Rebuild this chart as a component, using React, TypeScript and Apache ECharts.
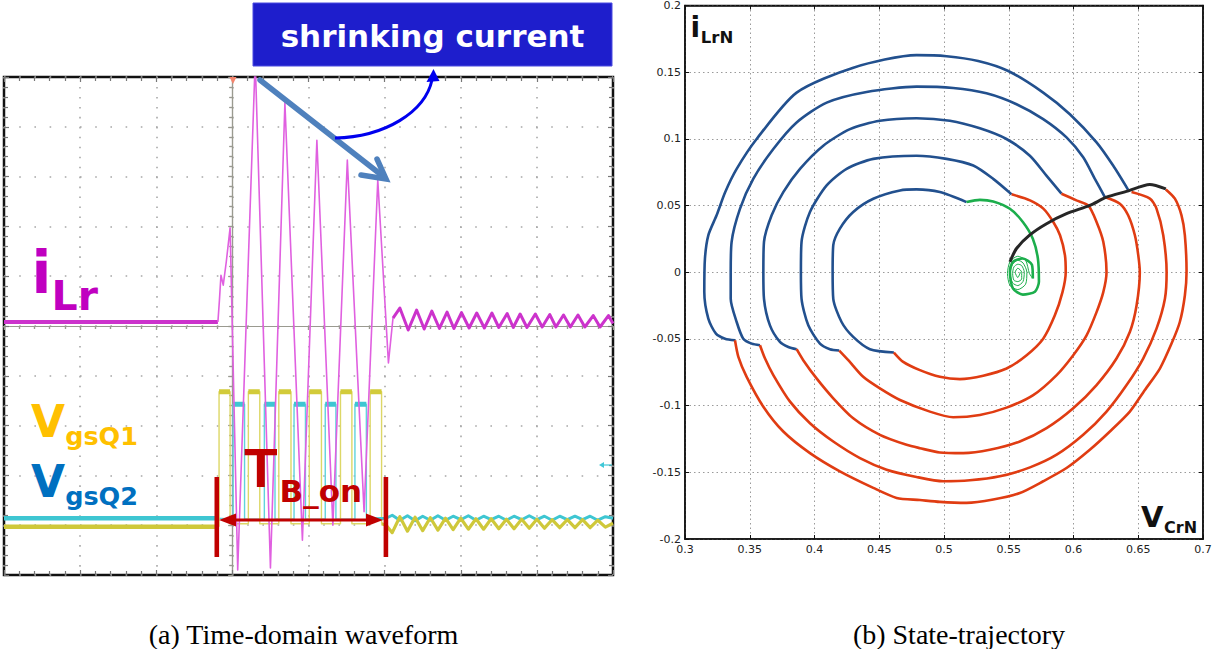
import React, { useEffect, useRef } from "react";
import * as echarts from "echarts";

// ---------------- Panel (a): oscilloscope traces (units: divisions; x -3..5, y -5..5) ----------------
const iLrPreX = [-3, -0.19];
const iLrPreY = [0.08, 0.08];
const iLrBurstX = [-0.19, -0.17, -0.15, -0.12, -0.08, -0.03, 0.07, 0.3, 0.5, 0.69, 0.92, 1.11, 1.32, 1.51, 1.73, 1.91, 2.05, 2.11];
const iLrBurstY = [0.08, 0.52, 1.02, 0.82, 1.29, 1.97, -4.9, 5.34, -4.86, 4.48, -4.3, 3.73, -4.0, 3.33, -3.73, 2.93, -0.74, 0.16];
const iLrRingX = [2.11, 2.2, 2.31, 2.42, 2.52, 2.62, 2.72, 2.82, 2.91, 3.01, 3.11, 3.21, 3.31, 3.41, 3.5, 3.61, 3.69, 3.78, 3.87, 3.98, 4.07, 4.17, 4.25, 4.35, 4.44, 4.54, 4.63, 4.74, 4.83, 4.94, 5.0];
const iLrRingY = [0.16, 0.36, -0.08, 0.32, -0.06, 0.3, -0.05, 0.28, -0.05, 0.27, -0.04, 0.26, -0.04, 0.26, -0.03, 0.25, -0.03, 0.24, -0.03, 0.24, -0.02, 0.23, -0.02, 0.22, -0.02, 0.22, -0.02, 0.21, -0.02, 0.21, 0.05];

const q1Rise = [-0.175, 0.21, 0.61, 1.01, 1.42, 1.81];
const q1Fall = [-0.03, 0.36, 0.77, 1.17, 1.57, 1.96];
const q1Levels = { high: -1.32, low: -3.97, pre: -4.03 };
const q2Rise = [0.01, 0.42, 0.81, 1.22, 1.61];
const q2Fall = [0.16, 0.56, 0.96, 1.36, 1.76];
const q2Levels = { high: -1.57, low: -3.88, pre: -3.86 };

const tailX = [2.02, 2.1, 2.2, 2.3, 2.4, 2.5, 2.6, 2.7, 2.8, 2.9, 3.0, 3.1, 3.2, 3.3, 3.4, 3.5, 3.6, 3.7, 3.8, 3.9, 4.0, 4.1, 4.2, 4.3, 4.4, 4.5, 4.6, 4.7, 4.8, 4.9, 5.0];
const q1TailY = [-4.0, -4.15, -3.83, -4.12, -3.84, -4.11, -3.85, -4.1, -3.86, -4.09, -3.86, -4.08, -3.87, -4.08, -3.87, -4.07, -3.88, -4.07, -3.88, -4.06, -3.88, -4.06, -3.89, -4.05, -3.89, -4.05, -3.89, -4.05, -3.9, -4.04, -3.96];
const q2TailY = [-3.86, -3.8, -3.9, -3.81, -3.91, -3.82, -3.9, -3.81, -3.9, -3.82, -3.89, -3.81, -3.9, -3.82, -3.89, -3.82, -3.9, -3.82, -3.89, -3.81, -3.89, -3.82, -3.9, -3.82, -3.89, -3.82, -3.89, -3.82, -3.9, -3.83, -3.86];

// ---------------- Panel (b): state trajectory (VCrN, iLrN) ----------------
const blue1 = [[0.3386, -0.051], [0.3309, -0.0498], [0.3239, -0.046], [0.318, -0.0348], [0.3149, -0.0149], [0.3154, 0.0103], [0.318, 0.0277], [0.3244, 0.0427], [0.331, 0.06], [0.3399, 0.0775], [0.3553, 0.0999], [0.3862, 0.1347], [0.43, 0.1534], [0.4788, 0.1628], [0.502, 0.162], [0.5264, 0.1584], [0.5496, 0.1509], [0.5766, 0.1347], [0.5972, 0.1185], [0.6178, 0.0974], [0.6306, 0.08], [0.6422, 0.0618]];
const blue2 = [[0.3579, -0.0547], [0.3515, -0.0535], [0.345, -0.0498], [0.3399, -0.0373], [0.3353, -0.0199], [0.3353, 0], [0.336, 0.0228], [0.3425, 0.0477], [0.3527, 0.07], [0.3682, 0.0924], [0.3862, 0.1123], [0.4094, 0.1272], [0.4402, 0.1352], [0.4788, 0.1392], [0.5071, 0.1382], [0.5328, 0.1342], [0.556, 0.126], [0.5766, 0.1148], [0.5946, 0.1011], [0.6075, 0.0862], [0.6165, 0.07], [0.6242, 0.0564]];
const blue3 = [[0.3862, -0.0577], [0.3798, -0.056], [0.3733, -0.0522], [0.3656, -0.0398], [0.361, -0.0199], [0.3605, 0], [0.361, 0.0228], [0.3669, 0.0427], [0.3759, 0.0601], [0.3888, 0.0775], [0.4068, 0.0949], [0.4274, 0.1073], [0.4505, 0.1136], [0.4788, 0.1155], [0.5045, 0.1136], [0.5277, 0.1079], [0.5482, 0.0999], [0.5663, 0.0874], [0.5791, 0.0725], [0.5907, 0.0589]];
const blue4 = [[0.4191, -0.0587], [0.4119, -0.0577], [0.4042, -0.0535], [0.3952, -0.0398], [0.39, -0.0199], [0.3895, 0], [0.39, 0.0228], [0.3965, 0.0452], [0.4094, 0.0651], [0.4248, 0.0775], [0.4454, 0.085], [0.4788, 0.0874], [0.502, 0.085], [0.5226, 0.08], [0.538, 0.07], [0.5522, 0.0584]];
const blue5 = [[0.4613, -0.0602], [0.4428, -0.0577], [0.4299, -0.0485], [0.4209, -0.0373], [0.4145, -0.0199], [0.414, 0], [0.4145, 0.0203], [0.4196, 0.0327], [0.4299, 0.0452], [0.4454, 0.0551], [0.466, 0.0613], [0.4788, 0.0621], [0.4968, 0.0601], [0.5174, 0.0526]];

const red1 = [[0.6713, 0.0621], [0.6783, 0.0552], [0.6834, 0.0427], [0.686, 0.0277], [0.6873, 0.0004], [0.686, -0.0174], [0.6821, -0.0373], [0.6757, -0.0535], [0.6667, -0.0722], [0.6551, -0.0883], [0.6435, -0.1045], [0.6281, -0.1194], [0.6126, -0.1331], [0.5946, -0.1468], [0.5766, -0.1567], [0.5586, -0.1655], [0.538, -0.1704], [0.5174, -0.1729], [0.4968, -0.1722], [0.4814, -0.1708], [0.4634, -0.1692], [0.4454, -0.1617], [0.4196, -0.1493], [0.3965, -0.1356], [0.3759, -0.1194], [0.3605, -0.1008], [0.3476, -0.0784], [0.3412, -0.0634], [0.3386, -0.051]];
const red2 = [[0.6448, 0.0601], [0.659, 0.0552], [0.6641, 0.0477], [0.6693, 0.0277], [0.6719, 0], [0.6706, -0.0199], [0.6641, -0.0423], [0.6538, -0.0647], [0.641, -0.0846], [0.6255, -0.1045], [0.6075, -0.1219], [0.587, -0.1368], [0.5664, -0.1463], [0.5431, -0.153], [0.52, -0.156], [0.4995, -0.1567], [0.4788, -0.1535], [0.4557, -0.148], [0.4351, -0.1393], [0.4145, -0.1269], [0.3965, -0.1132], [0.3811, -0.097], [0.3682, -0.0771], [0.3618, -0.0647], [0.3579, -0.0547]];
const red3 = [[0.6242, 0.0564], [0.6358, 0.0514], [0.6422, 0.0427], [0.6474, 0.0277], [0.65, 0.0128], [0.6512, 0], [0.6487, -0.0249], [0.6435, -0.0448], [0.6332, -0.0647], [0.6178, -0.0846], [0.5998, -0.102], [0.5792, -0.1169], [0.5586, -0.1269], [0.5354, -0.1331], [0.5149, -0.1356], [0.4968, -0.1351], [0.4814, -0.1319], [0.4711, -0.1294], [0.4505, -0.1219], [0.4299, -0.1095], [0.4145, -0.0945], [0.4016, -0.0796], [0.3913, -0.0659], [0.3862, -0.0577]];
const red4 = [[0.5907, 0.0589], [0.6023, 0.0539], [0.6114, 0.0501], [0.6178, 0.0377], [0.623, 0.0228], [0.6255, 0], [0.623, -0.0149], [0.6178, -0.0299], [0.6101, -0.0473], [0.5998, -0.0622], [0.587, -0.0771], [0.5689, -0.0921], [0.5483, -0.1015], [0.5277, -0.107], [0.5071, -0.1087], [0.4891, -0.1045], [0.466, -0.0958], [0.4505, -0.0871], [0.4376, -0.0784], [0.4261, -0.0659], [0.4191, -0.0587]];
const red5 = [[0.5522, 0.0584], [0.5664, 0.0539], [0.5767, 0.0477], [0.5844, 0.0377], [0.5896, 0.0277], [0.5934, 0.0128], [0.594, 0], [0.5915, -0.0149], [0.5856, -0.0323], [0.5766, -0.0498], [0.5638, -0.0622], [0.5483, -0.0722], [0.5303, -0.0776], [0.5123, -0.0801], [0.4968, -0.0784], [0.4814, -0.0734], [0.4685, -0.0672], [0.4613, -0.0602]];
const blackPath = [[0.5509, 0.0078], [0.556, 0.0178], [0.5663, 0.028], [0.5792, 0.0364], [0.5946, 0.0439], [0.6126, 0.0501], [0.6255, 0.0563], [0.6409, 0.0606], [0.6589, 0.0658], [0.6713, 0.0625]];
const greenPath = [[0.5174, 0.0526], [0.5277, 0.0543], [0.538, 0.0531], [0.5509, 0.0476], [0.5609, 0.0377], [0.5686, 0.0252], [0.5725, 0.0103], [0.5733, -0.0071], [0.5702, -0.0146], [0.5609, -0.0168], [0.5532, -0.0121], [0.5509, 0.0004], [0.5532, 0.0078], [0.5609, 0.0103], [0.5679, 0.0056], [0.5686, -0.0046]];
const greenCoil = [[0.5686, -0.0046], [0.566, -0.001], [0.563, 0.009], [0.557, 0.012], [0.551, 0.008], [0.549, -0.001], [0.551, -0.01], [0.557, -0.013], [0.563, -0.009], [0.564, 0], [0.561, 0.007], [0.557, 0.009], [0.553, 0.006], [0.551, -0.001], [0.553, -0.008], [0.557, -0.01], [0.561, -0.007], [0.562, 0], [0.56, 0.005], [0.557, 0.006], [0.554, 0.004], [0.553, -0.001], [0.554, -0.006], [0.557, -0.007], [0.56, -0.005], [0.56, 0], [0.557, 0.003], [0.555, 0], [0.557, -0.004], [0.559, 0]];

const captionA = "(a) Time-domain waveform";
const captionB = "(b) State-trajectory";

const zip = (xs: number[], ys: number[]) => xs.map((x, i) => [x, ys[i]]);
const steps = (rises: number[], falls: number[], high: number, low: number) => {
  const pts: number[][] = [];
  rises.forEach((r, i) => {
    pts.push([r, low], [r, high], [falls[i], high], [falls[i], low]);
  });
  return pts;
};
const plateaus = (rises: number[], falls: number[], high: number) => {
  const pts: any[] = [];
  rises.forEach((r, i) => {
    pts.push([r, high], [falls[i], high], "-");
  });
  return pts;
};

const SCOPE_GRID = "#9a9a90";
const BOLD = "DejaVu Sans";

export default function App() {
  const ref = useRef<HTMLDivElement>(null);
  useEffect(() => {
    if (!ref.current) return;
    const chart = echarts.init(ref.current, undefined, { renderer: "svg" });

    const scopeLine = (data: any[], color: string, width: number, z = 2) => ({
      type: "line", xAxisIndex: 0, yAxisIndex: 0, data, showSymbol: false, symbol: "none",
      clip: true, z, connectNulls: false, lineStyle: { color, width, join: "round" }, silent: true,
    });
    const traj = (data: number[][], color: string, width = 2.6, z = 3) => ({
      type: "line", xAxisIndex: 4, yAxisIndex: 4, data, showSymbol: false, symbol: "none",
      smooth: 0.25, clip: true, z, lineStyle: { color, width }, silent: true,
    });

    const crossAxis = (dim: "x" | "y", inside: boolean, split: boolean) => ({
      type: "value", gridIndex: 0,
      min: dim === "x" ? -3 : -5, max: 5, interval: 1,
      axisLine: { show: true, onZero: true, onZeroAxisIndex: 0, lineStyle: { color: SCOPE_GRID, width: 1.2 } },
      axisTick: { show: true, inside, length: 4, lineStyle: { color: SCOPE_GRID, width: 1.2 } },
      minorTick: { show: true, splitNumber: 5, length: 3, lineStyle: { color: SCOPE_GRID, width: 1.2 } },
      axisLabel: { show: false },
      splitLine: split
        ? { show: true, lineStyle: { color: "#a8a8a8", width: 1.6, type: dim === "x" ? [1.6, 8.36] : [1.6, 13.6] } }
        : { show: false },
    });
    const borderAxis = (dim: "x" | "y", position: string) => ({
      type: "value", gridIndex: 0, position,
      min: dim === "x" ? -3 : -5, max: 5, interval: 1,
      axisLine: { show: false, onZero: false },
      axisTick: { show: true, inside: true, length: 5, lineStyle: { color: "#777", width: 1.2 } },
      minorTick: { show: true, splitNumber: 5, length: 4, lineStyle: { color: "#777", width: 1.2 } },
      axisLabel: { show: false }, splitLine: { show: false },
    });
    const trajAxis = (dim: "x" | "y", position: string, labels: boolean) => ({
      type: "value", gridIndex: 1, position,
      min: dim === "x" ? 0.3 : -0.2, max: dim === "x" ? 0.7 : 0.2, interval: 0.05,
      axisLine: { show: true, onZero: false, lineStyle: { color: "#111", width: 1.6 } },
      axisTick: { show: true, inside: true, length: 4, lineStyle: { color: "#111" } },
      axisLabel: labels
        ? { show: true, fontSize: 11, fontFamily: "DejaVu Sans", color: "#222", margin: dim === "x" ? 5 : 4 }
        : { show: false },
      splitLine: labels
        ? { show: true, lineStyle: { color: "#9a9a9a", width: 1, type: [1.5, 3] } }
        : { show: false },
    });

    const q1Burst = [[q1Rise[0], q1Levels.pre], ...steps(q1Rise, q1Fall, q1Levels.high, q1Levels.low)];
    const q2Burst = [[-0.19, q2Levels.pre], ...steps(q2Rise, q2Fall, q2Levels.high, q2Levels.low)];

    const txt = (text: string, x: number, y: number, size: number, fill: string, family = BOLD, weight: any = "bold", align = "left") => ({
      type: "text", z: 100, silent: true,
      style: { text, x, y, fill, fontSize: size, fontWeight: weight, fontFamily: family, align, verticalAlign: "middle" },
    });

    const option: any = {
      animation: false,
      backgroundColor: "#ffffff",
      grid: [
        { left: 4, top: 77, width: 609, height: 498, show: true, borderColor: "#111", borderWidth: 2.5, backgroundColor: "#fff" },
        { left: 685, top: 3, width: 518, height: 536, show: true, borderColor: "#111", borderWidth: 1.5, backgroundColor: "#fff" },
      ],
      xAxis: [
        crossAxis("x", false, true),
        crossAxis("x", true, false),
        borderAxis("x", "top"),
        borderAxis("x", "bottom"),
        trajAxis("x", "bottom", true),
        trajAxis("x", "top", false),
      ],
      yAxis: [
        crossAxis("y", false, true),
        crossAxis("y", true, false),
        borderAxis("y", "right"),
        borderAxis("y", "left"),
        trajAxis("y", "left", true),
        trajAxis("y", "right", false),
      ],
      series: [
        scopeLine([[-3, q2Levels.pre], [-0.19, q2Levels.pre]], "#3ec6d2", 4.5),
        scopeLine([[-3, q1Levels.pre], [q1Rise[0], q1Levels.pre]], "#cfc83a", 4.5),
        scopeLine(q2Burst, "#5fd3dc", 1.4),
        scopeLine(plateaus(q2Rise, q2Fall, q2Levels.high), "#3ec6d2", 5),
        scopeLine(q1Burst, "#ddd766", 1.4),
        scopeLine(plateaus(q1Rise, q1Fall, q1Levels.high), "#d2cb3a", 5),
        scopeLine([[q2Fall[q2Fall.length - 1], q2Levels.low], ...zip(tailX, q2TailY)], "#3ec6d2", 3),
        scopeLine([[q1Fall[q1Fall.length - 1], q1Levels.low], ...zip(tailX, q1TailY)], "#cfc83a", 3.2),
        scopeLine(zip(iLrPreX, iLrPreY), "#cc33cc", 4),
        scopeLine(zip(iLrBurstX, iLrBurstY), "#e060e0", 1.6, 4),
        scopeLine(zip(iLrRingX, iLrRingY), "#cc33cc", 3),

        traj(blue1, "#22508e"), traj(blue2, "#22508e"), traj(blue3, "#22508e"), traj(blue4, "#22508e"), traj(blue5, "#22508e"),
        traj(red1, "#e03c12"), traj(red2, "#e03c12"), traj(red3, "#e03c12"), traj(red4, "#e03c12"), traj(red5, "#e03c12"),
        traj(greenPath, "#1cae4c", 2.6, 4),
        traj(greenCoil, "#1cae4c", 1, 4),
        traj(blackPath, "#262626", 3, 5),
      ],
      graphic: [
        // "shrinking current" callout
        { type: "rect", z: 100, silent: true, shape: { x: 253, y: 3, width: 359, height: 63 }, style: { fill: "#1e1ecc", stroke: "#4a4ae0", lineWidth: 1 } },
        txt("shrinking current", 432.5, 36, 31, "#ffffff", BOLD, "bold", "center"),
        { type: "line", z: 100, silent: true, shape: { x1: 260, y1: 80, x2: 384, y2: 177 }, style: { stroke: "#4f81bd", lineWidth: 5.5, lineCap: "round" } },
        { type: "polyline", z: 100, silent: true, shape: { points: [[361, 175], [386, 179], [377, 159]] }, style: { stroke: "#4f81bd", lineWidth: 5.5, fill: null, lineJoin: "miter", lineCap: "round" } },
        { type: "bezierCurve", z: 100, silent: true, shape: { x1: 335, y1: 138, cpx1: 385, cpy1: 137, cpx2: 425, cpy2: 112, x2: 432, y2: 80 }, style: { stroke: "#0000ee", lineWidth: 3, fill: null } },
        { type: "polygon", z: 100, silent: true, shape: { points: [[426.5, 82], [433.5, 69], [439.5, 81]] }, style: { fill: "#0000ee" } },
        // trigger marker and cyan level marker
        { type: "polygon", z: 100, silent: true, shape: { points: [[229.5, 77], [236.5, 77], [233, 84]] }, style: { fill: "#f4846c" } },
        { type: "polygon", z: 100, silent: true, shape: { points: [[599, 465], [604, 462], [604, 468]] }, style: { fill: "#40c8d8" } },
        { type: "line", z: 100, silent: true, shape: { x1: 604, y1: 465, x2: 612, y2: 465 }, style: { stroke: "#40c8d8", lineWidth: 1.2 } },
        // trace labels
        txt("i", 31.5, 273, 58, "#c000c0"),
        txt("Lr", 51.5, 296, 41, "#c000c0"),
        txt("V", 31, 421.5, 44, "#ffc000"),
        txt("gsQ1", 65.2, 436, 25.5, "#ffc000"),
        txt("V", 31, 481.5, 44, "#0070c0"),
        txt("gsQ2", 65.2, 496, 25.5, "#0070c0"),
        // T_B_on annotation
        { type: "rect", z: 100, silent: true, shape: { x: 214.5, y: 477, width: 4.6, height: 80 }, style: { fill: "#c00000" } },
        { type: "rect", z: 100, silent: true, shape: { x: 383.6, y: 477, width: 4.6, height: 80 }, style: { fill: "#c00000" } },
        { type: "line", z: 100, silent: true, shape: { x1: 228, y1: 520, x2: 374, y2: 520 }, style: { stroke: "#c00000", lineWidth: 3.2 } },
        { type: "polygon", z: 100, silent: true, shape: { points: [[219, 520], [236, 513.5], [236, 526.5]] }, style: { fill: "#c00000" } },
        { type: "polygon", z: 100, silent: true, shape: { points: [[383, 520], [366, 513.5], [366, 526.5]] }, style: { fill: "#c00000" } },
        txt("T", 244, 467.5, 55, "#c00000", "Liberation Sans"),
        txt("B_on", 279.5, 491, 31, "#c00000"),
        // state-plane axis labels
        txt("i", 690.5, 27, 28, "#111"),
        txt("LrN", 700.8, 37.6, 16.5, "#111"),
        txt("V", 1141, 516.7, 29, "#111"),
        txt("CrN", 1164, 527.8, 16, "#111"),
        // captions
        txt(captionA, 303.5, 634, 28, "#000", "Liberation Serif", "normal", "center"),
        txt(captionB, 959, 634, 28, "#000", "Liberation Serif", "normal", "center"),
      ],
    };
    chart.setOption(option);
    return () => chart.dispose();
  }, []);
  return <div ref={ref} style={{ position: "fixed", left: 0, top: 0, width: 1215, height: 649, background: "#fff" }} />;
}
